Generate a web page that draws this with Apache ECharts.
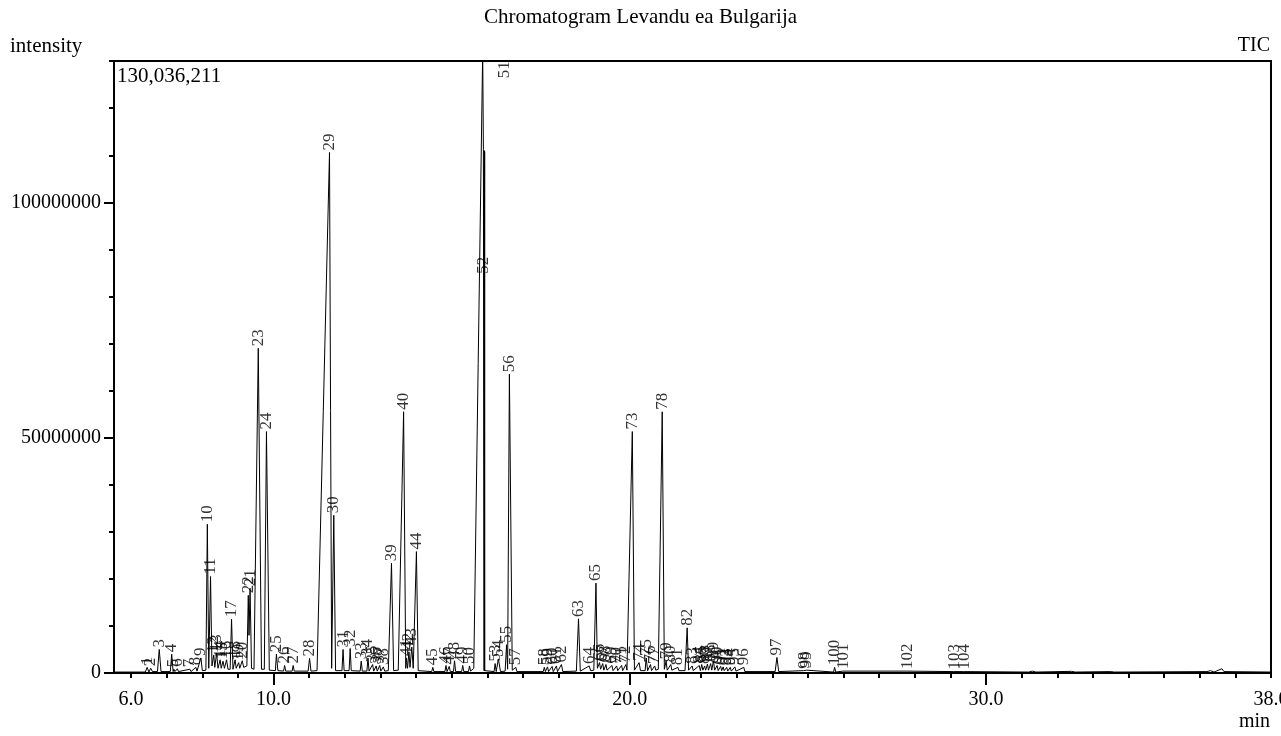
<!DOCTYPE html>
<html>
<head>
<meta charset="utf-8">
<script src="https://cdn.jsdelivr.net/npm/echarts@6/dist/echarts.min.js"></script>
<style>
  html, body { margin: 0; padding: 0; background: #fff; }
  #main { width: 1281px; height: 736px; }
</style>
</head>
<body>
<div id="main"></div>
<script>
// retention time (min) / intensity (millions) of the TIC trace
var trace = [
  [5.55, 0.2], [6.40, 0.2], [6.45, 1.2], [6.50, 0.2], [6.55, 1.0], [6.60, 0.3],
  [6.74, 0.3], [6.79, 5.0], [6.84, 0.3], [7.10, 0.3], [7.14, 4.0], [7.18, 0.3],
  [7.20, 0.8], [7.23, 0.3], [7.30, 0.9], [7.33, 0.3], [7.65, 0.8], [7.68, 0.3],
  [7.82, 1.2], [7.85, 0.4], [7.96, 3.2], [8.00, 0.5],
  [8.10, 0.6], [8.14, 31.6], [8.18, 1.0], [8.23, 20.5], [8.27, 1.5],
  [8.32, 3.8], [8.35, 1.2], [8.40, 4.2], [8.44, 1.0], [8.50, 2.8], [8.53, 1.0],
  [8.58, 2.5], [8.62, 1.0], [8.68, 2.8], [8.72, 0.8], [8.78, 0.8], [8.82, 11.4], [8.86, 0.8],
  [8.92, 2.8], [8.95, 1.0], [9.02, 2.2], [9.05, 1.0], [9.12, 2.6], [9.16, 1.2],
  [9.25, 1.5], [9.29, 16.5], [9.31, 8.0], [9.34, 18.0], [9.38, 1.0],
  [9.45, 0.8], [9.57, 69.0], [9.66, 0.8], [9.74, 0.8], [9.80, 51.3], [9.88, 0.6],
  [10.05, 0.5], [10.08, 4.0], [10.12, 0.5], [10.28, 0.4], [10.31, 1.6], [10.34, 0.4],
  [10.52, 0.4], [10.55, 1.6], [10.58, 0.4], [10.97, 0.4], [11.01, 3.1], [11.05, 0.4],
  [11.22, 0.5], [11.57, 110.6], [11.63, 1.0], [11.69, 33.5], [11.74, 0.5],
  [11.92, 0.5], [11.95, 5.0], [11.98, 0.5], [12.12, 0.5], [12.15, 5.2], [12.18, 0.5],
  [12.43, 0.4], [12.46, 2.5], [12.49, 0.4], [12.62, 0.4], [12.65, 3.2], [12.68, 0.4],
  [12.78, 1.8], [12.81, 0.4], [12.88, 1.5], [12.91, 0.4], [12.98, 1.6], [13.01, 0.4],
  [13.08, 1.3], [13.12, 0.4], [13.22, 0.5], [13.31, 23.3], [13.37, 0.5],
  [13.50, 0.6], [13.65, 55.5], [13.71, 1.0], [13.73, 3.2], [13.76, 1.0],
  [13.80, 4.5], [13.83, 1.2], [13.88, 5.5], [13.92, 1.0], [13.95, 0.8], [14.01, 25.8], [14.06, 0.5],
  [14.44, 0.3], [14.47, 1.2], [14.50, 0.3], [14.81, 0.3], [14.84, 1.6], [14.87, 0.3],
  [14.93, 1.4], [14.96, 0.3], [15.05, 0.3], [15.08, 2.6], [15.11, 0.3],
  [15.28, 0.3], [15.31, 1.6], [15.34, 0.3], [15.47, 0.3], [15.50, 1.5], [15.53, 0.4],
  [15.62, 1.0], [15.87, 132.0], [15.89, 111.2], [15.90, 111.2], [15.91, 0.5],
  [15.915, 111.0], [15.92, 0.5], [15.925, 110.8], [15.93, 0.5],
  [16.19, 0.3], [16.22, 2.0], [16.25, 0.3], [16.31, 3.0], [16.37, 0.3],
  [16.50, 0.4], [16.54, 6.0], [16.57, 0.8], [16.62, 63.5], [16.70, 0.6],
  [16.80, 1.2], [16.83, 0.3], [17.57, 0.3], [17.60, 1.2], [17.63, 0.3],
  [17.69, 1.3], [17.72, 0.3], [17.82, 1.4], [17.85, 0.3], [17.94, 1.5], [17.97, 0.3],
  [18.08, 1.8], [18.12, 0.3], [18.50, 0.4], [18.56, 11.5], [18.61, 0.4],
  [18.86, 1.5], [18.90, 0.5], [18.99, 0.6], [19.05, 19.1], [19.09, 1.0],
  [19.15, 2.2], [19.18, 0.8], [19.24, 2.0], [19.27, 0.6], [19.33, 1.8], [19.36, 0.6],
  [19.50, 1.6], [19.53, 0.5], [19.63, 1.5], [19.66, 0.5], [19.77, 1.6], [19.80, 0.5],
  [19.89, 1.8], [19.92, 0.6], [19.97, 0.8], [20.07, 51.3], [20.13, 0.6],
  [20.26, 2.2], [20.30, 0.5], [20.43, 0.5], [20.46, 3.2], [20.50, 0.5],
  [20.58, 1.8], [20.61, 0.5], [20.70, 1.5], [20.73, 0.6],
  [20.80, 0.8], [20.91, 55.5], [20.97, 0.8], [21.02, 2.5], [21.05, 0.6],
  [21.15, 1.8], [21.18, 0.6], [21.35, 1.2], [21.38, 0.5],
  [21.55, 0.5], [21.61, 9.6], [21.65, 0.6], [21.75, 1.5], [21.78, 0.5],
  [21.95, 1.6], [21.98, 0.5], [22.02, 1.8], [22.05, 0.6], [22.10, 1.5], [22.13, 0.6],
  [22.18, 1.9], [22.21, 0.6], [22.27, 2.0], [22.30, 0.6], [22.35, 2.6], [22.38, 0.6],
  [22.45, 1.6], [22.48, 0.5], [22.55, 1.4], [22.58, 0.5], [22.62, 1.3], [22.65, 0.5],
  [22.72, 1.2], [22.75, 0.4], [22.82, 1.2], [22.85, 0.4], [22.95, 1.3], [22.98, 0.4],
  [23.20, 1.2], [23.23, 0.3], [24.08, 0.3], [24.13, 3.3], [24.18, 0.3],
  [24.88, 0.5], [24.91, 0.2], [24.97, 0.6], [25.00, 0.2],
  [25.72, 0.2], [25.75, 1.2], [25.78, 0.2], [25.98, 0.4], [26.01, 0.2],
  [27.78, 0.4], [27.81, 0.2], [29.08, 0.3], [29.11, 0.2], [29.36, 0.3], [29.39, 0.2],
  [31.20, 0.2], [31.30, 0.4], [31.40, 0.2], [32.40, 0.35], [32.50, 0.2],
  [33.50, 0.3], [33.60, 0.2], [35.00, 0.25], [36.20, 0.3], [36.30, 0.5], [36.40, 0.2],
  [36.62, 0.9], [36.68, 0.3], [38.00, 0.2]
];

// peak numbers with their apex (time, intensity in millions)
var peakNo = [1, 2, 3, 4, 5, 6, 7, 8, 9, 10, 11, 12, 13, 14, 15, 16, 17, 18, 19, 20,
  21, 22, 23, 24, 25, 26, 27, 28, 29, 30, 31, 32, 33, 34, 35, 36, 37, 38, 39, 40,
  41, 42, 43, 44, 45, 46, 47, 48, 49, 50, 51, 52, 53, 54, 55, 56, 57, 58, 59, 60,
  61, 62, 63, 64, 65, 66, 67, 68, 69, 70, 71, 72, 73, 74, 75, 76, 77, 78, 79, 80,
  81, 82, 83, 84, 85, 86, 87, 88, 89, 90, 91, 92, 93, 94, 95, 96, 97, 98, 99, 100,
  101, 102, 103, 104];
var peakTime = [6.45, 6.55, 6.79, 7.14, 7.20, 7.30, 7.65, 7.82, 7.96, 8.14, 8.23, 8.32, 8.40, 8.50, 8.58, 8.68, 8.82, 8.92, 9.02, 9.12,
  9.34, 9.29, 9.57, 9.80, 10.08, 10.31, 10.55, 11.01, 11.57, 11.69, 11.95, 12.15, 12.46, 12.65, 12.78, 12.88, 12.98, 13.08, 13.31, 13.65,
  13.73, 13.80, 13.88, 14.01, 14.47, 14.84, 14.93, 15.08, 15.31, 15.50, 15.87, 15.90, 16.22, 16.31, 16.54, 16.62, 16.80, 17.60, 17.69, 17.82,
  17.94, 18.08, 18.56, 18.86, 19.05, 19.15, 19.24, 19.33, 19.50, 19.63, 19.77, 19.89, 20.07, 20.26, 20.46, 20.58, 20.70, 20.91, 21.02, 21.15,
  21.35, 21.61, 21.75, 21.95, 22.02, 22.10, 22.18, 22.27, 22.35, 22.45, 22.55, 22.62, 22.72, 22.82, 22.95, 23.20, 24.13, 24.91, 24.97, 25.75,
  26.01, 27.81, 29.11, 29.39];
var peakHeight = [1.2, 1.0, 5.0, 4.0, 0.8, 0.9, 0.8, 1.2, 3.2, 31.6, 20.5, 3.8, 4.2, 2.8, 2.5, 2.8, 11.4, 2.8, 2.2, 2.6,
  18.0, 16.5, 69.0, 51.3, 4.0, 1.6, 1.6, 3.1, 110.6, 33.5, 5.0, 5.2, 2.5, 3.2, 1.8, 1.5, 1.6, 1.3, 23.3, 55.5,
  3.2, 4.5, 5.5, 25.8, 1.2, 1.6, 1.4, 2.6, 1.6, 1.5, 130.0, 111.2, 2.0, 3.0, 6.0, 63.5, 1.2, 1.2, 1.3, 1.4,
  1.5, 1.8, 11.5, 1.5, 19.1, 2.2, 2.0, 1.8, 1.6, 1.5, 1.6, 1.8, 51.3, 2.2, 3.2, 1.8, 1.5, 55.5, 2.5, 1.8,
  1.2, 9.6, 1.5, 1.6, 1.8, 1.5, 1.9, 2.0, 2.6, 1.6, 1.4, 1.3, 1.2, 1.2, 1.3, 1.2, 3.3, 0.5, 0.6, 1.2,
  0.4, 0.4, 0.3, 0.3];

var xMinorTicks = [6, 7, 8, 9, 10, 11, 12, 13, 14, 15, 16, 17, 18, 19, 20, 21, 22,
  23, 24, 25, 26, 27, 28, 29, 30, 31, 32, 33, 34, 35, 36, 37, 38];
var xMajorTicks = [10, 20, 30];
var xLabels = [6, 10, 20, 30, 38];
var yMinorTicks = [0, 10, 20, 30, 40, 50, 60, 70, 80, 90, 100, 110, 120, 130];
var yMajorTicks = [0, 50, 100];
var yMax = 130.036211;

var FONT = 'Liberation Serif';
var chart = echarts.init(document.getElementById('main'));

var labelData = peakNo.map(function (n, i) {
  var item = { value: [peakTime[i], peakHeight[i]], name: String(n) };
  if (n === 51) {
    item.label = { position: 'right', distance: 22, align: 'right' };
  } else if (n === 52) {
    // label sits on the line, well below the apex (offset is in the rotated frame)
    item.label = { offset: [-126, 0] };
  }
  return item;
});

var axisLine = { show: true, lineStyle: { color: '#000', width: 2 } };

var option = {
  backgroundColor: '#fff',
  animation: false,
  grid: {
    left: 114, right: 10, top: 61, bottom: 63,
    outerBoundsMode: 'none', containLabel: false,
    show: true, borderColor: '#000', borderWidth: 2
  },
  xAxis: [{
    type: 'value', min: 5.52, max: 38, position: 'bottom',
    axisLine: axisLine,
    axisTick: { show: true, customValues: xMinorTicks, length: 5, lineStyle: { color: '#000', width: 2 } },
    axisLabel: { show: false },
    splitLine: { show: false }
  }, {
    type: 'value', min: 5.52, max: 38, position: 'bottom',
    axisLine: axisLine,
    axisTick: { show: true, customValues: xMajorTicks, length: 12, lineStyle: { color: '#000', width: 2 } },
    axisLabel: {
      show: true, customValues: xLabels, margin: 17,
      fontFamily: FONT, fontSize: 20, color: '#000',
      alignMaxLabel: 'center',
      formatter: function (v) { return v.toFixed(1); }
    },
    splitLine: { show: false }
  }],
  yAxis: [{
    type: 'value', min: 0, max: yMax, position: 'left',
    axisLine: axisLine,
    axisTick: { show: true, customValues: yMinorTicks, length: 5, lineStyle: { color: '#000', width: 2 } },
    axisLabel: { show: false },
    splitLine: { show: false }
  }, {
    type: 'value', min: 0, max: yMax, position: 'left', offset: 0,
    axisLine: axisLine,
    axisTick: { show: true, customValues: yMajorTicks, length: 10, lineStyle: { color: '#000', width: 2 } },
    axisLabel: {
      show: true, customValues: yMajorTicks, margin: 13,
      fontFamily: FONT, fontSize: 20, color: '#000',
      formatter: function (v) { return String(Math.round(v * 1000000)); }
    },
    splitLine: { show: false }
  }],
  series: [{
    name: 'TIC', type: 'line', data: trace,
    xAxisIndex: 0, yAxisIndex: 0,
    showSymbol: false, clip: true,
    lineStyle: { color: '#000', width: 1 }
  }, {
    name: 'peaks', type: 'scatter', data: labelData,
    xAxisIndex: 0, yAxisIndex: 0,
    symbolSize: 0, silent: true,
    label: {
      show: true, position: 'top', distance: 2, rotate: 90,
      align: 'left', verticalAlign: 'middle',
      fontFamily: FONT, fontSize: 17, color: '#000',
      formatter: function (p) { return p.name; }
    }
  }],
  graphic: [
    { type: 'text', left: 'center', top: 7,
      style: { text: 'Chromatogram Levandu ea Bulgarija', font: '21px "Liberation Serif"', fill: '#000' } },
    { type: 'text', left: 10, top: 36,
      style: { text: 'intensity', font: '21px "Liberation Serif"', fill: '#000' } },
    { type: 'text', right: 11, top: 36,
      style: { text: 'TIC', font: '20px "Liberation Serif"', fill: '#000' } },
    { type: 'text', left: 117, top: 66,
      style: { text: '130,036,211', font: '21px "Liberation Serif"', fill: '#000' } },
    { type: 'text', right: 11, top: 712,
      style: { text: 'min', font: '20px "Liberation Serif"', fill: '#000' } }
  ]
};

chart.setOption(option);
</script>
</body>
</html>
